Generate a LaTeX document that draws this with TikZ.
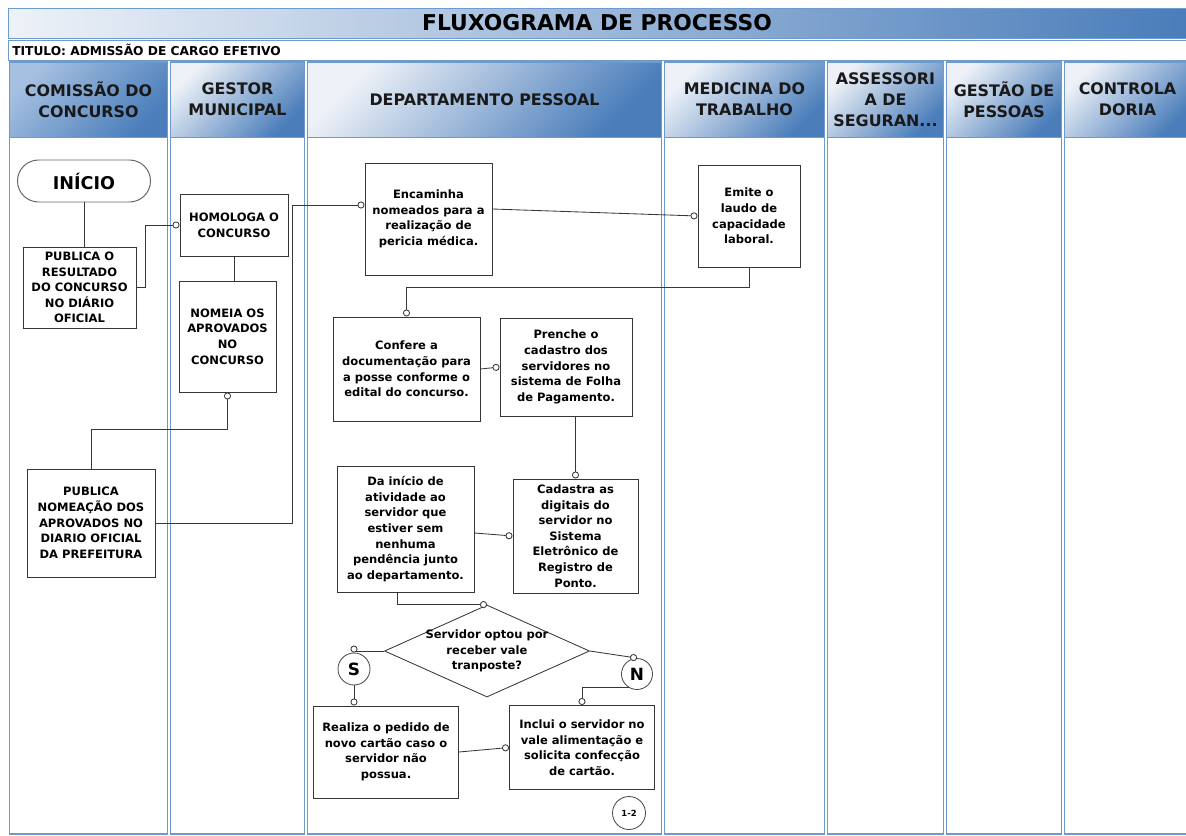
\documentclass[tikz,border=0pt]{standalone}
\usepackage{fontspec}
\setmainfont{DejaVu Sans}
\usepackage{xcolor}
\usepackage{tikz}
\usetikzlibrary{shapes,arrows,arrows.meta}

\definecolor{laneline}{RGB}{110,155,206}
\definecolor{headlight}{RGB}{238,242,248}
\definecolor{headdark}{RGB}{74,125,186}
\definecolor{headmid}{RGB}{165,192,225}
\definecolor{flowgray}{RGB}{55,55,55}

\begin{document}
\begin{tikzpicture}[
        x=0.025cm, y=-0.025cm,
        dims/.style 2 args={minimum width=#1*0.025cm, minimum height=#2*0.025cm},
        lane/.style={draw=laneline, line width=0.8pt},
        header/.style={draw=laneline, line width=0.6pt, top color=headlight, bottom color=headdark, shading angle=45, align=center, inner sep=0pt, text=black!90, font=\bfseries\fontsize{11.3pt}{15pt}\selectfont},
        titlebar/.style={draw=laneline, line width=0.6pt, left color=headlight, right color=headdark, inner sep=0pt, font=\bfseries\fontsize{15.5pt}{18pt}\selectfont},
        block/.style={rectangle, draw=flowgray, line width=0.7pt, fill=white, align=center, inner sep=1pt, font=\bfseries\fontsize{8.2pt}{11.1pt}\selectfont},
        term/.style={rounded rectangle, draw=black!60, line width=0.7pt, fill=white, inner sep=0pt, font=\bfseries\fontsize{12.5pt}{15pt}\selectfont},
        decision/.style={diamond, draw=flowgray, line width=0.6pt, fill=white, inner sep=0pt},
        joint/.style={circle, draw=black!70, line width=0.6pt, fill=white, inner sep=0pt, font=\bfseries\fontsize{12pt}{14pt}\selectfont},
        line/.style={draw=flowgray, line width=0.6pt},
        conn/.style={draw=flowgray, line width=0.6pt, -{Circle[open, length=5pt, width=5pt, fill=white]}}
    ]
        \useasboundingbox (0,0) rectangle (1186,836);

        % Title
        \node [titlebar, dims={1178}{30}] (title) at (597,23) {FLUXOGRAMA DE PROCESSO};
        \node [draw=laneline, line width=0.6pt, fill=white, inner sep=0pt, dims={1178}{20}] (subtitle) at (597,50) {};
        \node [anchor=west, inner sep=0pt, font=\bfseries\fontsize{8.7pt}{10pt}\selectfont] (subtitletext) at (12,50) {TITULO: ADMISSÃO DE CARGO EFETIVO};

        % Lanes
        \foreach \xa/\xb in {8/169, 169/306, 306/663, 663/826, 826/945, 945/1063, 1063/1196}
            \draw [lane] (\xa+1.6,62) rectangle (\xb-1.6,834);

        \node [header, top color=headmid, shading angle=45, dims={158}{75}] (comissao) at (88.5,99.5) {COMISSÃO DO\\CONCURSO};
        \node [header, dims={134}{75}] (gestor) at (237.5,99.5) {GESTOR\\MUNICIPAL};
        \node [header, dims={354}{75}] (depto) at (484.5,99.5) {DEPARTAMENTO PESSOAL};
        \node [header, dims={160}{75}] (medicina) at (744.5,99.5) {MEDICINA DO\\TRABALHO};
        \node [header, dims={116}{75}] (assessoria) at (885.5,99.5) {ASSESSORI\\A DE\\SEGURAN...};
        \node [header, dims={115}{75}] (gestao) at (1004,99.5) {GESTÃO DE\\PESSOAS};
        \node [header, dims={126}{75}] (controla) at (1127.5,99.5) {CONTROLA\\DORIA};

        % Main Nodes
        \node [term, dims={133}{42}] (inicio) at (84,181) {INÍCIO};
        \node [block, dims={113}{81}] (pubres) at (79.5,287.5) {PUBLICA O\\RESULTADO\\DO CONCURSO\\NO DIÁRIO\\OFICIAL};
        \node [block, dims={108}{62}] (homol) at (234,225) {HOMOLOGA O\\CONCURSO};
        \node [block, dims={97}{111}] (nomeia) at (227.5,336.5) {NOMEIA OS\\APROVADOS\\NO\\CONCURSO};
        \node [block, dims={128}{108}] (pubnom) at (91,523) {PUBLICA\\NOMEAÇÃO DOS\\APROVADOS NO\\DIARIO OFICIAL\\DA PREFEITURA};
        \node [block, dims={127}{112}] (encam) at (428.5,219) {Encaminha\\nomeados para a\\realização de\\pericia médica.};
        \node [block, dims={102}{102}] (emite) at (749,216) {Emite o\\laudo de\\capacidade\\laboral.};
        \node [block, dims={147}{104}] (confere) at (406.5,369) {Confere a\\documentação para\\a posse conforme o\\edital do concurso.};
        \node [block, dims={132}{98}] (prench) at (566,367) {Prenche o\\cadastro dos\\servidores no\\sistema de Folha\\de Pagamento.};
        \node [block, dims={137}{126}] (dainic) at (405.5,529) {Da início de\\atividade ao\\servidor que\\estiver sem\\nenhuma\\pendência junto\\ao departamento.};
        \node [block, dims={125}{114}] (cadas) at (575.5,536) {Cadastra as\\digitais do\\servidor no\\Sistema\\Eletrônico de\\Registro de\\Ponto.};

        % Decision
        \node [decision, dims={205}{92}] (diam) at (487,651) {};
        \node [align=center, inner sep=0pt, font=\bfseries\fontsize{8.2pt}{11.1pt}\selectfont] (diamtext) at (diam.center) {Servidor optou por\\receber vale\\tranposte?};
        \node [joint, minimum size=32*0.025cm] (sim) at (354,669) {S};
        \node [joint, minimum size=31*0.025cm] (nao) at (637,674) {N};
        \node [block, dims={145}{92}] (realiza) at (386,752) {Realiza o pedido de\\novo cartão caso o\\servidor não\\possua.};
        \node [block, dims={145}{84}] (inclui) at (582,747.5) {Inclui o servidor no\\vale alimentação e\\solicita confecção\\de cartão.};
        \node [joint, minimum size=33*0.025cm, font=\bfseries\fontsize{6pt}{7pt}\selectfont] (pagina) at (629,813) {1-2};

        % Edges
        \path [line] (inicio.south) -- (inicio.south |- pubres.north);
        \path [conn] (pubres.east) -- ++(9,0) |- (homol.west);
        \path [line] (homol.south) -- (homol.south |- nomeia.north);
        \path [conn] (pubnom.north) -- ++(0,-39) -| (nomeia.south);
        \path [conn] (pubnom.east) -- ++(137,0) |- ([yshift=0.35cm]encam.west);
        \path [conn] ([yshift=0.25cm]encam.east) -- (emite.west);
        \path [conn] (emite.south) -- ++(0,20) -| (confere.north);
        \path [conn] (confere.east) -- (prench.west);
        \path [conn] (cadas.north |- prench.south) -- (cadas.north);
        \path [conn] (dainic.east) ++(0,4) -- (cadas.west);
        \path [conn] ([xshift=-0.19cm]dainic.south) |- (diam.north);
        \path [conn] (diam.west) -| (sim.north);
        \path [conn] (sim.south) -- (sim.south |- realiza.north);
        \path [conn] (diam.east) -- (nao.north);
        \path [conn] (nao.240) -| (inclui.north);
        \path [conn] (realiza.east) -- (inclui.west);

\end{tikzpicture}
\end{document}
